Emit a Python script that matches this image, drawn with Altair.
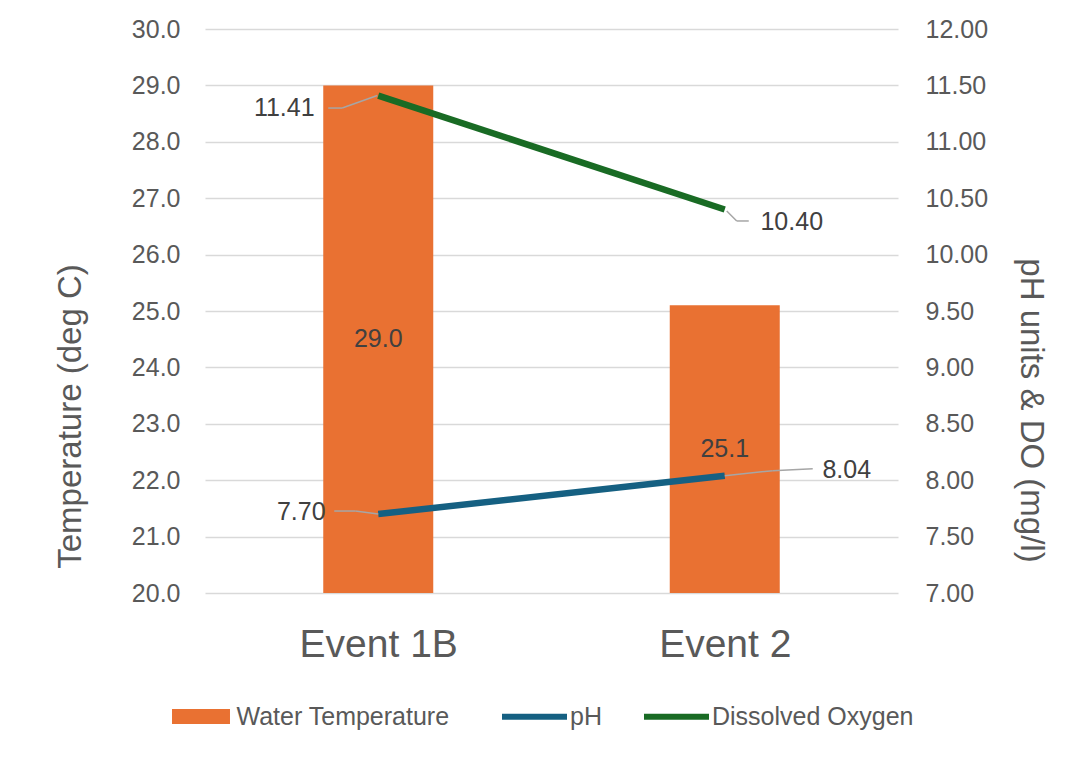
import altair as alt
import pandas as pd

# ---------------- data ----------------
events = ["Event 1B", "Event 2"]
water_temp = [29.0, 25.1]
ph_values = [7.70, 8.04]
do_values = [11.41, 10.40]

bar_series = ["Water Temperature"]
bar_colors = ["#E97132"]
line_series = ["pH", "Dissolved Oxygen"]
line_colors = ["#156082", "#196B24"]

temp_ticks = [20.0, 21.0, 22.0, 23.0, 24.0, 25.0, 26.0, 27.0, 28.0, 29.0, 30.0]
right_ticks = [7.0, 7.5, 8.0, 8.5, 9.0, 9.5, 10.0, 10.5, 11.0, 11.5, 12.0]

idx = list(range(len(events)))
bar_df = pd.DataFrame({"idx": idx, "event": events, "value": water_temp,
                       "series": bar_series[0]})
line_df = pd.DataFrame({
    "idx": idx + idx,
    "event": events + events,
    "value": ph_values + do_values,
    "series": [line_series[0]] * len(events) + [line_series[1]] * len(events),
})

FONT = "Liberation Sans"
TICK_COLOR = "#595959"
LABEL_COLOR = "#404040"
LEADER_COLOR = "#A6A6A6"

x_scale = alt.Scale(domain=[-0.5, len(events) - 0.5], nice=False, zero=False, padding=0)
label_expr = "[" + ",".join("'" + e + "'" for e in events) + "][datum.value]"

rect_path = "M-0.892,-0.231L0.892,-0.231L0.892,0.231L-0.892,0.231Z"
line_path = "M-1,0L1,0"

bar_legend = alt.Legend(
    title=None, orient="none", direction="horizontal",
    legendX=-36.5, legendY=655,
    labelFont=FONT, labelFontSize=25, labelColor=TICK_COLOR, labelLimit=0,
    labelOffset=3, symbolSize=4225, symbolType=rect_path, padding=0,
    symbolStrokeWidth=0, symbolOpacity=1,
)
line_legend = alt.Legend(
    title=None, orient="none", direction="horizontal",
    legendX=294, legendY=652,
    labelFont=FONT, labelFontSize=25, labelColor=TICK_COLOR, labelLimit=0,
    labelOffset=0, columnPadding=30, symbolSize=4225, symbolType=line_path,
    symbolStrokeWidth=6, padding=0, symbolOpacity=1,
)

x_axis = alt.Axis(values=idx, labelExpr=label_expr, title=None, grid=False,
                  ticks=False, domain=False, labelFont=FONT, labelFontSize=39,
                  labelColor=TICK_COLOR, labelPadding=32, labelAngle=0)

# ---------------- left (temperature) ----------------
bars = alt.Chart(bar_df).mark_bar(size=110, orient="vertical").encode(
    x=alt.X("idx:Q", scale=x_scale, axis=x_axis),
    y=alt.Y("value:Q",
            scale=alt.Scale(domain=[temp_ticks[0], temp_ticks[-1]], zero=False, nice=False),
            axis=alt.Axis(values=temp_ticks, format=".1f", title="Temperature (deg C)",
                          grid=True, gridColor="#D9D9D9", gridWidth=1.5,
                          ticks=False, domain=False, labelFont=FONT, labelFontSize=25,
                          labelColor=TICK_COLOR, labelPadding=25,
                          titleFont=FONT, titleFontSize=33, titleFontWeight="normal",
                          titleColor=TICK_COLOR, titleX=-135, titleY=387,
                          titleAlign="center", titleBaseline="middle")),
    y2=alt.datum(temp_ticks[0]),
    fill=alt.Fill("series:N", scale=alt.Scale(domain=bar_series, range=bar_colors),
                  legend=bar_legend),
)

bar_text = alt.Chart(bar_df).transform_calculate(
    mid=f"(datum.value + {temp_ticks[0]}) / 2"
).mark_text(font=FONT, fontSize=25, color=LABEL_COLOR).encode(
    x=alt.X("idx:Q"),
    y=alt.Y("mid:Q"),
    text=alt.Text("value:Q", format=".1f"),
)

left = alt.layer(bars, bar_text)

# ---------------- right (pH & DO) ----------------
def sel(series, event):
    return f"datum.series === '{series}' && datum.event === '{event}'"


def leader(series, event, x0, y0, x1, y1):
    return alt.Chart(line_df).transform_filter(sel(series, event)).mark_rule(
        color=LEADER_COLOR, strokeWidth=1.5,
        xOffset=x0, yOffset=y0, x2Offset=x1, y2Offset=y1,
    ).encode(
        x=alt.X("idx:Q"),
        x2="idx:Q",
        y=alt.Y("value:Q"),
        y2="value:Q",
    )


def label(series, event, dx, dy):
    return alt.Chart(line_df).transform_filter(sel(series, event)).mark_text(
        font=FONT, fontSize=25, color=LABEL_COLOR, dx=dx, dy=dy,
    ).encode(
        x=alt.X("idx:Q"),
        y=alt.Y("value:Q"),
        text=alt.Text("value:Q", format=".2f"),
    )


lines = alt.Chart(line_df).mark_line(strokeWidth=6.5).encode(
    x=alt.X("idx:Q"),
    y=alt.Y("value:Q",
            scale=alt.Scale(domain=[right_ticks[0], right_ticks[-1]], zero=False, nice=False),
            axis=alt.Axis(orient="right", values=right_ticks, format=".2f",
                          title="pH units & DO (mg/l)", grid=False, ticks=False,
                          domain=False, labelFont=FONT, labelFontSize=25,
                          labelColor=TICK_COLOR, labelPadding=27,
                          titleFont=FONT, titleFontSize=33, titleFontWeight="normal",
                          titleColor=TICK_COLOR, titleX=132, titleY=381,
                          titleAlign="center", titleBaseline="middle")),
    stroke=alt.Stroke("series:N", scale=alt.Scale(domain=line_series, range=line_colors),
                      legend=line_legend),
    order="idx:Q",
)

leaders = [
    leader("Dissolved Oxygen", events[0], -1, 0, -36, 12.5),
    leader("Dissolved Oxygen", events[0], -36, 12.5, -50, 12.5),
    leader("Dissolved Oxygen", events[1], 2, 1.5, 12, 11.5),
    leader("Dissolved Oxygen", events[1], 12, 11.5, 24, 11.5),
    leader("pH", events[0], 0, 0, -23, -3),
    leader("pH", events[0], -23, -3, -44, -3),
    leader("pH", events[1], 0, 0, 48, -5),
    leader("pH", events[1], 48, -5, 88, -7),
]

labels = [
    label("Dissolved Oxygen", events[0], -94, 12.5),
    label("Dissolved Oxygen", events[1], 67, 12.5),
    label("pH", events[0], -77, -2),
    label("pH", events[1], 122, -6),
]

right = alt.layer(lines, *leaders, *labels)

chart = alt.layer(left, right).resolve_scale(y="independent").properties(
    width=693, height=564,
    autosize=alt.AutoSizeParams(type="none"),
    padding={"left": 197, "top": 21, "right": 155, "bottom": 155},
    background="white",
).configure_view(stroke=None)

chart.save("out.html", embed_options={"renderer": "svg", "actions": False})
